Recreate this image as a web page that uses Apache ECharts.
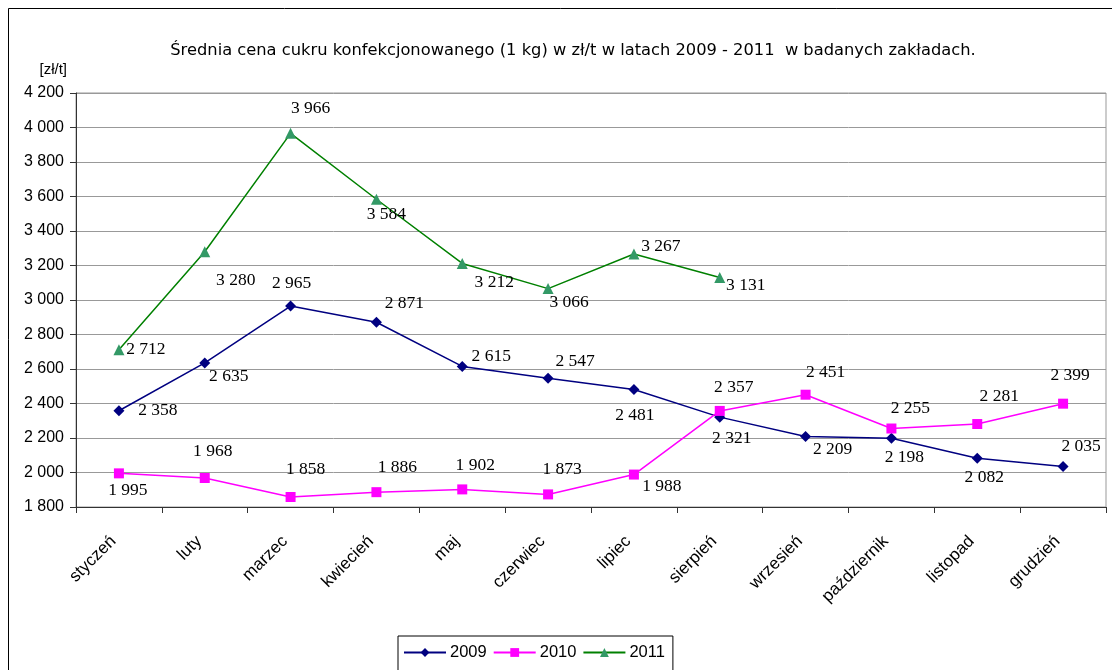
<!DOCTYPE html>
<html><head><meta charset="utf-8">
<script src="https://cdn.jsdelivr.net/npm/echarts@6/dist/echarts.min.js"></script>
<style>html,body{margin:0;padding:0;background:#fff}#c{width:1112px;height:670px}</style>
</head><body><div id="c"></div>
<script>
const months = ['styczeń','luty','marzec','kwiecień','maj','czerwiec','lipiec','sierpień','wrzesień','październik','listopad','grudzień'];
const s2009 = [2358, 2635, 2965, 2871, 2615, 2547, 2481, 2321, 2209, 2198, 2082, 2035];
const s2010 = [1995, 1968, 1858, 1886, 1902, 1873, 1988, 2357, 2451, 2255, 2281, 2399];
const s2011 = [2712, 3280, 3966, 3584, 3212, 3066, 3267, 3131];
const yTicks = [1800, 2000, 2200, 2400, 2600, 2800, 3000, 3200, 3400, 3600, 3800, 4000, 4200];
// label offsets (pixel placement of data labels relative to points)
const off2009 = [[39,0],[24,13],[1,-23],[28,-19],[29,-10],[27,-17],[1,26],[12,21],[27,13],[13,19],[7,19],[18,-20]];
const off2010 = [[9,17],[8,-27],[15,-28],[21,-25],[13,-24],[14,-25],[28,12],[14,-24],[20,-22],[19,-20],[22,-28],[7,-28]];
const off2011 = [[27,0],[31,29],[20,-25],[10,15],[32,19],[21,14],[27,-8],[26,8]];

const fmt = v => { const s = String(Math.round(v)); return s.length > 3 ? s.slice(0, s.length-3) + ' ' + s.slice(-3) : s; };
const mk = (vals, offs) => vals.map((v,i) => ({value: v, label: {offset: offs[i]}}));
const labelStyle = {show: true, position: 'inside', fontFamily: 'Liberation Serif', fontSize: 17.5, color: '#000', formatter: p => fmt(p.value)};

const chart = echarts.init(document.getElementById('c'), null, {renderer: 'canvas'});
chart.setOption({
  animation: false,
  backgroundColor: '#fff',
  graphic: [{type: 'rect', shape: {x: 8.5, y: 8.5, width: 1200, height: 800}, style: {fill: 'none', stroke: '#000', lineWidth: 1}, z: -10}],
  title: {text: 'Średnia cena cukru konfekcjonowanego (1 kg) w zł/t w latach 2009 - 2011  w badanych zakładach.', left: 568, textAlign: 'center', top: 38,
    textStyle: {fontFamily: 'DejaVu Sans', fontWeight: 'normal', fontSize: 16.3, color: '#000'}},
  legend: {top: 636, left: 398, itemGap: 6, padding: [8, 8, 16, 5], borderColor: '#000', borderWidth: 1, itemWidth: 42, itemHeight: 11,
    textStyle: {fontFamily: 'Liberation Sans', fontSize: 16.5, color: '#000', padding: [0, 0, 0, -1]}, data: ['2009','2010','2011']},
  grid: {left: 76, right: 6, top: 93, bottom: 163, show: true, borderColor: '#999', borderWidth: 1},
  xAxis: {type: 'category', data: months, boundaryGap: true,
    axisLine: {lineStyle: {color: '#333'}}, axisTick: {show: true, length: 6, lineStyle: {color: '#333'}},
    axisLabel: {rotate: 45, fontFamily: 'Liberation Sans', fontSize: 17, color: '#000', margin: 26, padding: [0, 8, 0, 0], interval: 0}},
  yAxis: {type: 'value', min: yTicks[0], max: yTicks[yTicks.length-1], interval: 200, name: '[zł/t]', nameGap: 16,
    nameTextStyle: {fontFamily: 'Liberation Sans', fontSize: 15, color: '#000', align: 'right', padding: [0, 9, 0, 0]},
    axisLine: {show: true, lineStyle: {color: '#333'}}, axisTick: {show: true, length: 6, lineStyle: {color: '#333'}},
    splitLine: {lineStyle: {color: '#999'}},
    axisLabel: {fontFamily: 'Liberation Sans', fontSize: 16, color: '#000', margin: 12, formatter: v => fmt(v)}},
  series: [
    {name: '2009', type: 'line', data: mk(s2009, off2009), symbol: 'diamond', symbolSize: 11, itemStyle: {color: '#000080'}, lineStyle: {color: '#000080', width: 1.5}, label: labelStyle},
    {name: '2010', type: 'line', data: mk(s2010, off2010), symbol: 'rect', symbolSize: 10, itemStyle: {color: '#FF00FF'}, lineStyle: {color: '#FF00FF', width: 1.5}, label: labelStyle},
    {name: '2011', type: 'line', data: mk(s2011, off2011), symbol: 'triangle', symbolSize: 11, itemStyle: {color: '#339966'}, lineStyle: {color: '#008000', width: 1.5}, label: labelStyle}
  ]
});
</script></body></html>
